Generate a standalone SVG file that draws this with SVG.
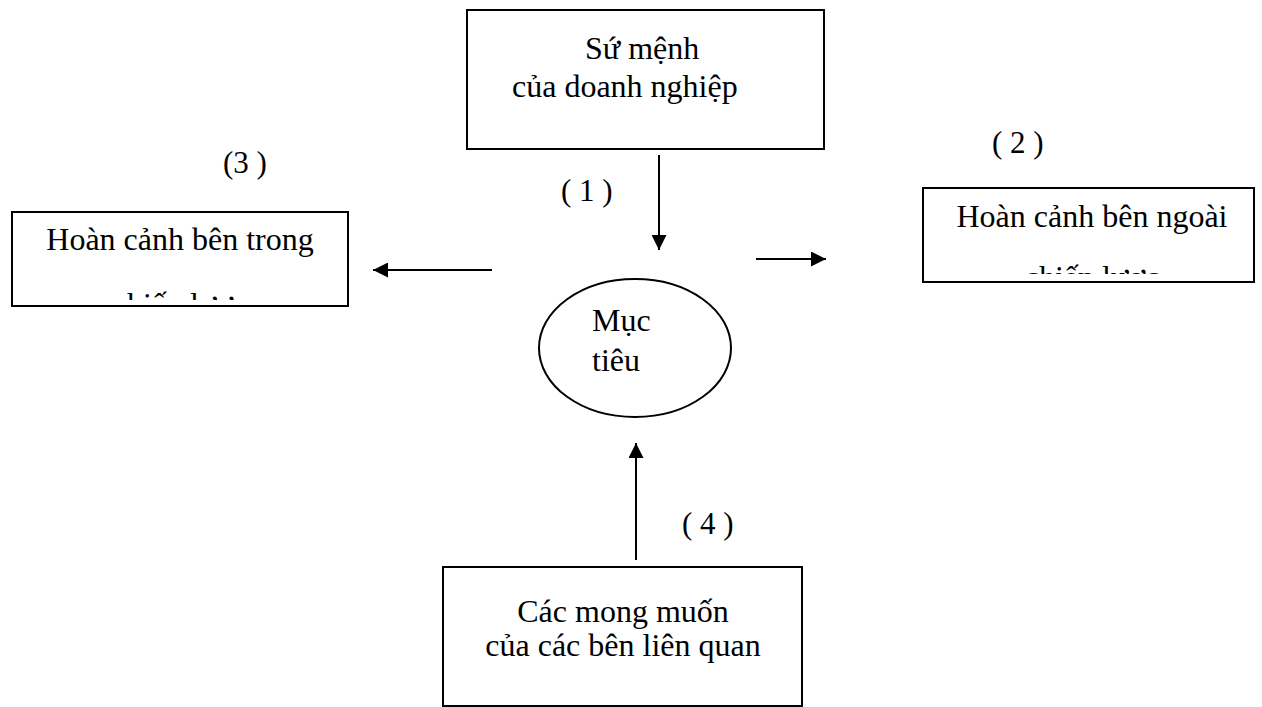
<svg xmlns="http://www.w3.org/2000/svg" width="1262" height="707" viewBox="0 0 1262 707">
<style>
.box{fill:#fff;stroke:#000;stroke-width:2}
.t{font-family:"Liberation Serif","Times New Roman",serif;font-size:32px;fill:#000}
.c{text-anchor:middle}
.lbl{font-family:"Liberation Serif","Times New Roman",serif;font-size:31px;fill:#000}
.conn line{stroke:#000;stroke-width:2}
</style>
<defs>
<marker id="ah" viewBox="0 0 10 10" refX="10" refY="5" markerUnits="userSpaceOnUse" markerWidth="15" markerHeight="15" orient="auto">
<path d="M0,0 L10,5 L0,10 Z" fill="#000"/>
</marker>
<clipPath id="clipL"><rect x="13" y="213" width="334" height="87"/></clipPath>
<clipPath id="clipR"><rect x="924" y="189" width="329" height="85"/></clipPath>
</defs>
<rect width="1262" height="707" fill="#fff"/>
<g id="mission">
<rect class="box" x="467" y="10" width="357" height="139"/>
<text class="t" x="585" y="59">Sứ mệnh</text>
<text class="t" x="512" y="97">của doanh nghiệp</text>
</g>
<g id="internal">
<rect class="box" x="12" y="212" width="336" height="94"/>
<text class="t c" x="180" y="250">Hoàn cảnh bên trong</text>
<text class="t c" x="180" y="315" clip-path="url(#clipL)">chiến lược</text>
</g>
<g id="external">
<rect class="box" x="923" y="188" width="331" height="94"/>
<text class="t c" x="1092" y="227">Hoàn cảnh bên ngoài</text>
<text class="t c" x="1092" y="288" clip-path="url(#clipR)">chiến lược</text>
</g>
<g id="goal">
<ellipse cx="635" cy="348" rx="96" ry="69" fill="#fff" stroke="#000" stroke-width="2"/>
<text class="t" x="592" y="331">Mục</text>
<text class="t" x="592" y="371">tiêu</text>
</g>
<g id="stakeholders">
<rect class="box" x="443" y="567" width="359" height="139"/>
<text class="t c" x="623" y="622">Các mong muốn</text>
<text class="t c" x="623" y="656">của các bên liên quan</text>
</g>
<g id="labels">
<text class="lbl" x="223" y="173">(3 )</text>
<text class="lbl" x="561" y="201">( 1 )</text>
<text class="lbl" x="992" y="153">( 2 )</text>
<text class="lbl" x="682" y="534">( 4 )</text>
</g>
<g id="connectors" class="conn">
<line x1="659" y1="155" x2="659" y2="250" marker-end="url(#ah)"/>
<line x1="492" y1="270" x2="373" y2="270" marker-end="url(#ah)"/>
<line x1="756" y1="259" x2="826" y2="259" marker-end="url(#ah)"/>
<line x1="636" y1="560" x2="636" y2="443" marker-end="url(#ah)"/>
</g>
</svg>
